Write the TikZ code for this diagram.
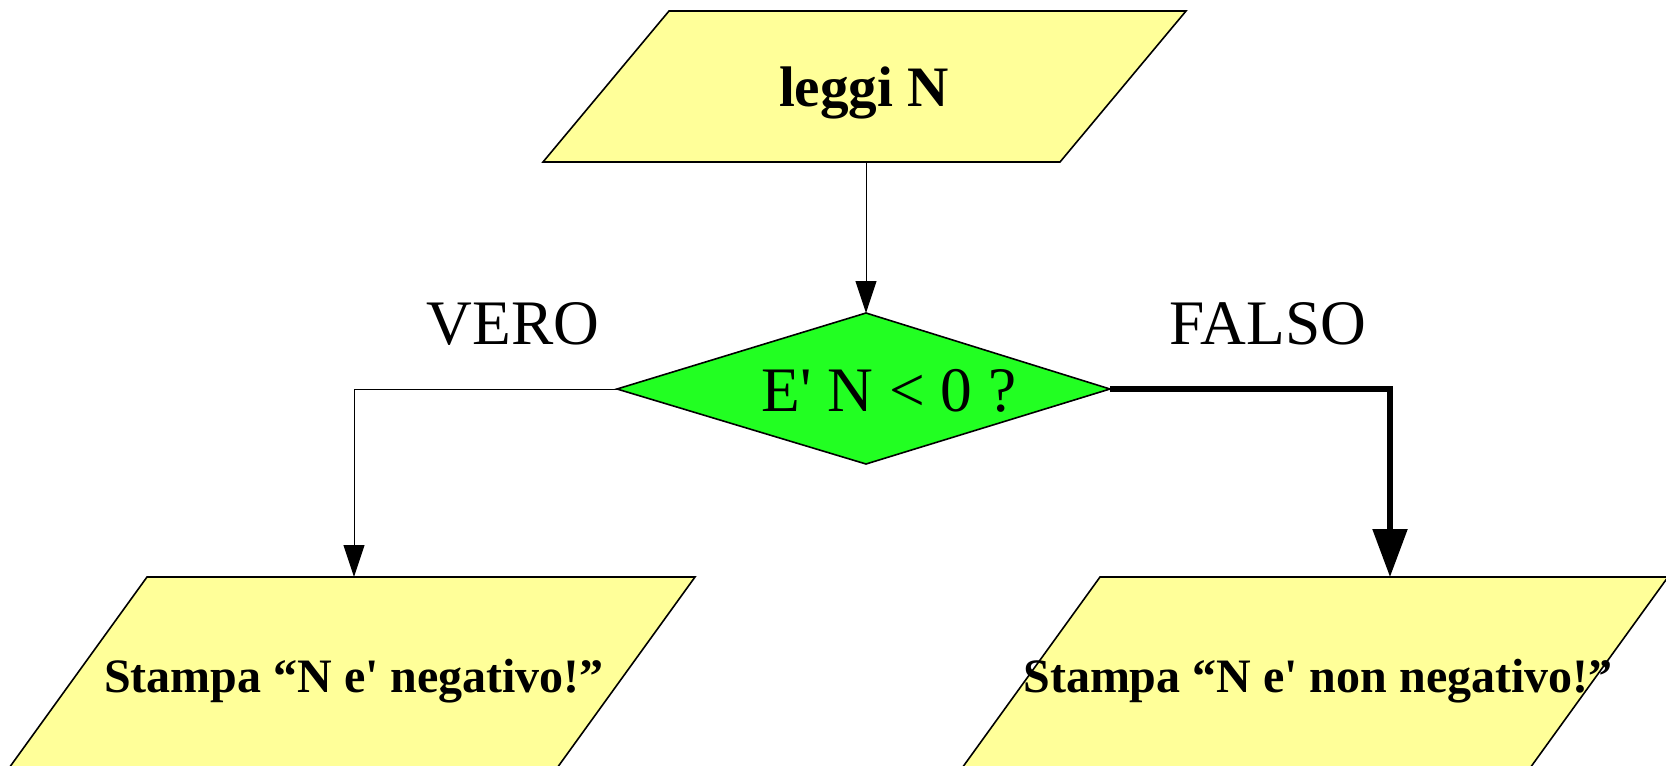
\documentclass[tikz,border=0pt]{standalone}
\usepackage{fontspec}
\newfontfamily\tnr{Liberation Serif}
\usetikzlibrary{arrows.meta}
\definecolor{boxyellow}{RGB}{255,255,153}
\definecolor{testgreen}{RGB}{34,255,34}

\begin{document}
\begin{tikzpicture}[x=0.5pt,y=-0.5pt,
  shapeline/.style={draw=black,line width=0.8pt,line join=miter},
  iobox/.style={shapeline,fill=boxyellow},
  testbox/.style={shapeline,fill=testgreen},
  iotext/.style={font=\tnr\bfseries\fontsize{24}{28}\selectfont,anchor=base,inner sep=0pt},
  plaintext/.style={font=\tnr\fontsize{31.7}{36}\selectfont,anchor=base,inner sep=0pt},
  thinflow/.style={line width=0.5pt,-{Triangle[width=10.5pt,length=16pt]}},
  thickflow/.style={line width=2.7pt,-{Triangle[width=17pt,length=24pt]}},
]
\useasboundingbox (0,0) rectangle (1666,766);
\clip (0,0) rectangle (1666,766);

% input: read N
\path[iobox] (669,11) -- (1186,11) -- (1060,162) -- (543,162) -- cycle;
\coordinate (readS) at (866,162);
\node[iotext,font=\tnr\bfseries\fontsize{28.6}{32}\selectfont] (read) at (864,106) {leggi N};

% decision
\path[testbox] (866,313) -- (1110,389) -- (866,464) -- (617,389) -- cycle;
\coordinate (testN) at (866,313);
\coordinate (testW) at (617,389);
\coordinate (testE) at (1110,389);
\node[plaintext] (test) at (889,411) {E' N < 0 ?};

% branch labels
\node[plaintext] (vero) at (513,344) {VERO};
\node[plaintext] (falso) at (1268,344) {FALSO};

% output: negative
\path[iobox] (147,577) -- (695,577) -- (552,775) -- (4,775) -- cycle;
\coordinate (negN) at (354,577);
\node[iotext] (neg) at (354,692) {Stampa “N e' negativo!”};

% output: non negative
\path[iobox] (1100,577) -- (1668,577) -- (1525,775) -- (957,775) -- cycle;
\coordinate (nonnegN) at (1390,577);
\node[iotext] (nonneg) at (1318,692) {Stampa “N e' non negativo!”};

% flow lines
\draw[thinflow] (readS) -- (testN);
\draw[thinflow] (testW) -| (negN);
\draw[thickflow] (testE) -| (nonnegN);
\end{tikzpicture}
\end{document}
